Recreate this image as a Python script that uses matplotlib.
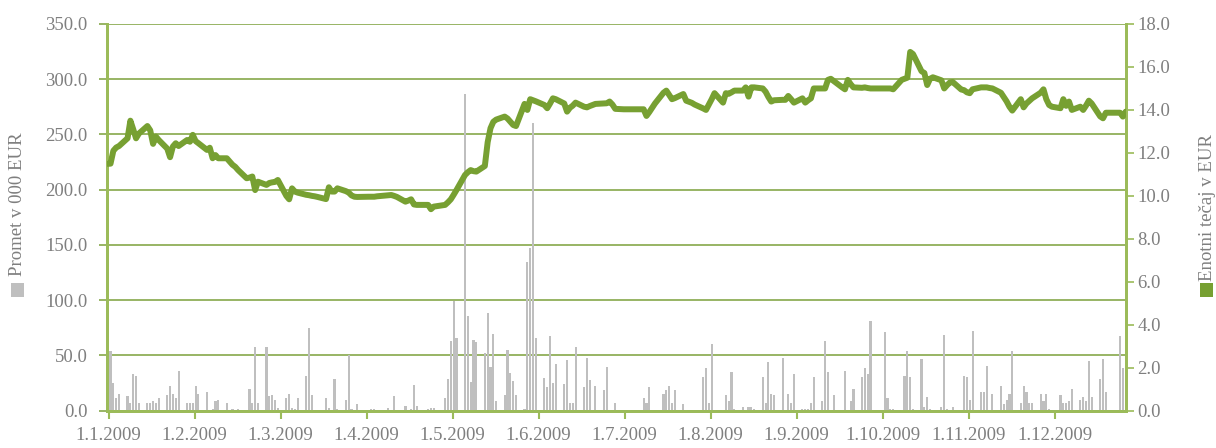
import matplotlib
matplotlib.use('Agg')
import matplotlib.pyplot as plt
from matplotlib.patches import Rectangle
import numpy as np
import pandas as pd

plt.rcParams['font.family'] = ['Liberation Serif', 'DejaVu Serif']

# trgovalni dnevi 2009 (delovni dnevi brez praznikov)
prazniki = ['2009-04-13', '2009-04-27', '2009-05-01', '2009-06-25', '2009-12-25']
dnevi = pd.bdate_range('2009-01-05', '2009-12-30')
dnevi = dnevi[~dnevi.isin(pd.to_datetime(prazniki))]

# enotni tecaj v EUR, po mesecih
tecaj_jan = [11.49, 11.5, 12.1, 12.25, 12.32, 12.68, 13.5, 13.1, 12.68, 12.9,
             13.25, 13.05, 12.42, 12.76, 12.6, 12.2, 11.8, 12.3, 12.45, 12.32]
tecaj_feb = [12.6, 12.52, 12.84, 12.55, 12.45, 12.14, 12.24, 11.75, 11.9, 11.75,
             11.75, 11.6, 11.45, 11.35, 11.2, 10.82, 10.85, 10.9, 10.27, 10.66]
tecaj_mar = [10.51, 10.6, 10.63, 10.65, 10.74, 10.0, 9.84, 10.35, 10.2, 10.15,
             10.05, 10.03, 10.0, 9.98, 9.95, 9.85, 10.4, 10.2, 10.2, 10.35, 10.22, 10.15]
tecaj_apr = [10.02, 9.96, 9.95, 9.96, 9.96, 9.96, 9.96, 9.98, 10.03, 10.04,
             10.0, 9.95, 9.73, 9.78, 9.84, 9.6, 9.58, 9.58, 9.38, 9.5]
tecaj_maj = [9.58, 9.7, 9.84, 10.05, 10.27, 10.97, 11.1, 11.2, 11.15, 11.13,
             11.39, 12.5, 13.15, 13.45, 13.55, 13.69, 13.6, 13.45, 13.3, 13.25]
tecaj_jun = [14.28, 14.0, 14.5, 14.45, 14.4, 14.23, 14.08, 14.3, 14.54, 14.5,
             14.3, 13.92, 14.1, 14.2, 14.34, 14.15, 14.12, 14.18, 14.28, 14.3, 14.31]
tecaj_jul = [14.39, 14.25, 14.05, 14.03, 14.03, 14.03, 14.03, 14.03, 14.03, 13.72,
             13.9, 14.1, 14.3, 14.8, 14.9, 14.7, 14.5, 14.55, 14.74, 14.43,
             14.38, 14.33, 14.25]
tecaj_avg = [14.07, 14.0, 14.25, 14.5, 14.78, 14.34, 14.78, 14.75, 14.82, 14.9,
             14.9, 15.05, 14.62, 15.05, 15.05, 15.0, 14.85, 14.6, 14.39, 14.45, 14.47]
tecaj_sep = [14.47, 14.65, 14.5, 14.34, 14.54, 14.34, 14.45, 14.54, 15.0, 15.0,
             15.0, 15.4, 15.45, 15.35, 15.05, 14.96, 15.4, 15.2, 15.05, 15.03, 15.05, 15.02]
tecaj_okt = [15.0, 15.0, 15.0, 15.0, 15.0, 15.0, 14.96, 15.4, 15.45, 15.5,
             16.7, 16.6, 15.8, 15.72, 15.16, 15.45, 15.52, 15.38, 15.0, 15.15, 15.28, 15.3]
tecaj_nov = [14.95, 14.92, 14.82, 14.78, 14.96, 15.05, 15.05, 15.05, 15.02, 15.0,
             14.8, 14.6, 14.4, 14.15, 13.97, 14.5, 14.12, 14.3, 14.42, 14.54, 14.8]
tecaj_dec = [14.96, 14.5, 14.23, 14.15, 14.08, 14.5, 14.19, 14.39, 14.0, 14.15,
             14.0, 14.2, 14.43, 14.3, 13.7, 13.61, 13.87, 13.87, 13.87, 13.69, 13.92]

# promet v 000 EUR, po mesecih
promet_jan = [47.5, 54.4, 25.5, 11.6, 15.4, 12.9, 7.2, 33.3, 31.8, 7.2,
              7.2, 7.2, 9.1, 7.2, 11.6, 14.5, 22.3, 15.4, 11.6, 35.5]
promet_feb = [7.2, 7.2, 7.2, 22.3, 15.4, 17.3, 0, 1.3, 9.1, 9.7,
              7.2, 0, 1.3, 0, 1.3, 0, 19.2, 7.2, 57.9, 7.2]
promet_mar = [57.9, 12.9, 14.5, 9.7, 2.2, 11.6, 15.4, 2.2, 1.3, 11.6,
              31.8, 75, 14.5, 0, 0, 11.6, 2.2, 0, 28.6, 1.3, 9.7, 50]
promet_apr = [1.3, 0, 6.0, 0, 0, 1.3, 1.3, 0, 2.2, 0,
              12.9, 0, 4.1, 0, 1.3, 23, 4.1, 1.3, 2.2, 2.2]
promet_maj = [11.6, 28.6, 63, 99, 66, 287, 85.6, 26, 63.7, 62,
              52, 88.3, 39.6, 69, 9, 14.4, 55, 34, 27, 14.4]
promet_jun = [1.5, 135, 147, 260, 66, 30, 21.5, 68, 25, 42.5,
              24, 46, 6.6, 6.6, 58, 21, 48, 27.5, 22, 18.5, 40]
promet_jul = [1, 0, 6.6, 0, 0, 1, 0, 0, 11.4, 6.6, 21.8, 0, 0,
              15.2, 19, 22.8, 6.6, 19, 5.7, 1, 0, 0, 0]
promet_avg = [30.4, 39, 6.6, 60.8, 1, 1, 14.2, 8.5, 35, 1.9,
              3.8, 1, 3.8, 3.8, 1.9, 30.4, 6.6, 43.7, 15.2, 14.2, 47.5]
promet_sep = [1, 15.2, 6.6, 33.2, 1.9, 1.9, 1.9, 6.6, 30.4, 8.5,
              62.7, 35, 1, 14.2, 0, 36, 0, 8.5, 20, 30.4, 39, 33.2]
promet_okt = [81, 0, 1, 71, 11.4, 1.3, 1.9, 1, 31.3, 54,
              30.4, 1.3, 46.8, 3.8, 12.3, 1.3, 0, 3.8, 68.4, 1.9, 0, 3.8]
promet_nov = [1, 31.3, 30.4, 9.5, 72, 17, 17, 40.8, 1, 15.2,
              22.8, 5.7, 9.5, 15.2, 54, 6.6, 22.8, 17, 6.6, 6.6, 15.2]
promet_dec = [8.5, 15.2, 1.9, 0, 14.2, 6.6, 6.6, 8.5, 20, 9.5,
              12.3, 8.5, 44.6, 12.3, 28.5, 46.5, 17, 0, 67.4, 39, 0]

oznake_x = ['1.1.2009', '1.2.2009', '1.3.2009', '1.4.2009', '1.5.2009', '1.6.2009',
            '1.7.2009', '1.8.2009', '1.9.2009', '1.10.2009', '1.11.2009', '1.12.2009']

tecaj = np.concatenate([tecaj_jan, tecaj_feb, tecaj_mar, tecaj_apr, tecaj_maj, tecaj_jun,
                        tecaj_jul, tecaj_avg, tecaj_sep, tecaj_okt, tecaj_nov, tecaj_dec])
promet = np.concatenate([promet_jan, promet_feb, promet_mar, promet_apr, promet_maj, promet_jun,
                         promet_jul, promet_avg, promet_sep, promet_okt, promet_nov, promet_dec])
x = (dnevi - dnevi[0]).days.values

SIVA = '#7F7F7F'
ZELENA = '#77A032'
MREZA = '#86A84A'
OS = '#9BBB59'
FS = 13.5

fig = plt.figure(figsize=(12.16, 4.48), dpi=100)
ax = fig.add_axes([106.7 / 1216, 37.3 / 448, 1019 / 1216, 386.7 / 448])

ax.bar(x, promet, width=0.75, color='#BFBFBF', zorder=2)
ax.set_ylim(0, 350)
ax.set_yticks(np.arange(0, 351, 50))
ax.set_yticklabels(['%.1f' % v for v in np.arange(0, 351, 50)])
ax.set_xlim(-0.35, 359.0)
ax.set_xticks(0.35 + 30.33 * np.arange(12))
ax.set_xticklabels(oznake_x)
ax.grid(axis='y', color=MREZA, lw=1.2, zorder=0)
ax.set_axisbelow(True)

ax2 = ax.twinx()
ax2.plot(x, tecaj, color=ZELENA, lw=4.3, solid_joinstyle='round', solid_capstyle='round', zorder=3)
ax2.set_ylim(0, 18)
ax2.set_yticks(np.arange(0, 19, 2))
ax2.set_yticklabels(['%.1f' % v for v in np.arange(0, 19, 2)])

for a in (ax, ax2):
    a.spines['top'].set_visible(False)
    for s in ('left', 'right', 'bottom'):
        a.spines[s].set_color(OS)
        a.spines[s].set_linewidth(2)

ax.tick_params(axis='y', colors=MREZA, labelcolor=SIVA, labelsize=FS, length=6, width=1.2, pad=8)
ax.tick_params(axis='x', colors=OS, labelcolor=SIVA, labelsize=FS, length=6, width=1.5, pad=6)
ax2.tick_params(axis='y', colors=OS, labelcolor=SIVA, labelsize=FS, length=5.5, width=1.2, pad=3)

# naslova osi z oznako serije
fig.text(17.5 / 1216, 1 - 276 / 448, 'Promet v 000 EUR', rotation=90, ha='center', va='bottom',
         color=SIVA, fontsize=FS)
fig.add_artist(Rectangle((11 / 1216, 1 - 297 / 448), 13 / 1216, 14 / 448,
                         transform=fig.transFigure, facecolor='#BFBFBF', edgecolor='none'))
fig.text(1207.5 / 1216, 1 - 281 / 448, 'Enotni tečaj v EUR', rotation=90, ha='center', va='bottom',
         color=SIVA, fontsize=FS)
fig.add_artist(Rectangle((1200 / 1216, 1 - 297 / 448), 13 / 1216, 14 / 448,
                         transform=fig.transFigure, facecolor=ZELENA, edgecolor='none'))

fig.savefig('out.png', dpi=100)
